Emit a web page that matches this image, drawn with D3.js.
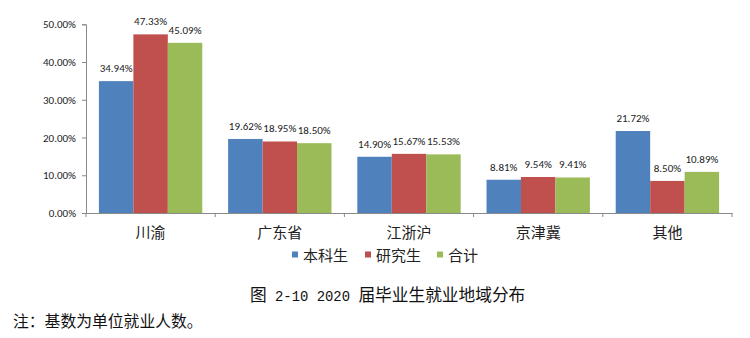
<!DOCTYPE html>
<html><head><meta charset="utf-8">
<script src="https://cdn.jsdelivr.net/npm/d3@7"></script>
<style>body{margin:0;background:#fff}svg{display:block}</style>
</head><body>
<svg id="c" width="750" height="338"></svg>
<script>
const categories = ["川渝","广东省","江浙沪","京津冀","其他"];
const seriesNames = ["本科生","研究生","合计"];
const undergrad = [34.94,19.62,14.90,8.81,21.72];
const graduate = [47.33,18.95,15.67,9.54,8.50];
const total = [45.09,18.50,15.53,9.41,10.89];
const yTicks = [0,10,20,30,40,50];
const colors = ["#4F81BD","#C0504D","#9BBB59"];
const series = [undergrad, graduate, total];

const svg = d3.select("#c");
const mLeft = 86, mRight = 732, mTop = 24.3, mBottom = 213;
const x = d3.scaleBand().domain(categories).range([mLeft,mRight]).paddingInner(0.2).paddingOuter(0.1);
const x1 = d3.scaleBand().domain(seriesNames).range([0,x.bandwidth()]);
const y = d3.scaleLinear().domain([0,50]).range([mBottom,mTop]);
const numFont = "Carlito, 'Liberation Sans', Arial, sans-serif";
const cjk = "'Noto Sans CJK SC', sans-serif";
const mono = "'Liberation Mono', 'DejaVu Sans Mono', monospace";

// y axis
const ya = svg.append("g").attr("transform",`translate(${mLeft},0)`)
  .call(d3.axisLeft(y).tickValues(yTicks).tickSize(4).tickFormat(d=>d.toFixed(2)+"%"));
ya.select(".domain").attr("stroke","#898989");
ya.selectAll(".tick line").attr("stroke","#898989");
ya.selectAll("text").attr("font-family",numFont).attr("font-size",11).attr("fill","#222").attr("x",-10);

// x axis
const xa = svg.append("g").attr("transform",`translate(0,${mBottom})`)
  .call(d3.axisBottom(x).tickSize(0).tickSizeOuter(0));
xa.select(".domain").attr("stroke","#898989");
xa.selectAll("text").attr("font-family",cjk).attr("font-size",15).attr("fill","#222").attr("dy","1.45em");
// separator ticks
const seps = d3.range(categories.length+1).map(i=>mLeft + i*(mRight-mLeft)/categories.length);
svg.append("g").selectAll("line").data(seps).join("line")
  .attr("x1",d=>d).attr("x2",d=>d).attr("y1",mBottom).attr("y2",mBottom+4).attr("stroke","#898989");

// bars
series.forEach((vals,si)=>{
  const g = svg.append("g");
  g.selectAll("rect").data(vals).join("rect")
    .attr("x",(d,i)=>x(categories[i])+x1(seriesNames[si]))
    .attr("y",d=>y(d)).attr("width",x1.bandwidth()).attr("height",d=>mBottom-y(d))
    .attr("fill",colors[si]);
  g.selectAll("text").data(vals).join("text")
    .attr("x",(d,i)=>x(categories[i])+x1(seriesNames[si])+x1.bandwidth()/2)
    .attr("y",d=>y(d)-9).attr("text-anchor","middle")
    .attr("font-family",numFont).attr("font-size",11).attr("fill","#222")
    .text(d=>d.toFixed(2)+"%");
});

// legend
const lx = [292,365,437];
const lg = svg.append("g");
seriesNames.forEach((n,i)=>{
  lg.append("rect").attr("x",lx[i]).attr("y",251.5).attr("width",6).attr("height",6).attr("fill",colors[i]);
  lg.append("text").attr("x",lx[i]+11).attr("y",260.5).attr("font-family",cjk).attr("font-size",15).attr("fill","#222").text(n);
});

// caption
const cap = svg.append("text").attr("x",250).attr("y",301)
  .attr("font-family",cjk).attr("font-size",16.7).attr("fill","#111");
cap.append("tspan").text("图");
cap.append("tspan").attr("font-family",mono).attr("font-size",13.9).attr("xml:space","preserve").style("white-space","pre").text(" 2-10 2020 ");
cap.append("tspan").text("届毕业生就业地域分布");
svg.append("text").attr("x",13).attr("y",327)
  .attr("font-family",cjk).attr("font-size",15.8).attr("fill","#111")
  .text("注：基数为单位就业人数。");
</script>
</body></html>
